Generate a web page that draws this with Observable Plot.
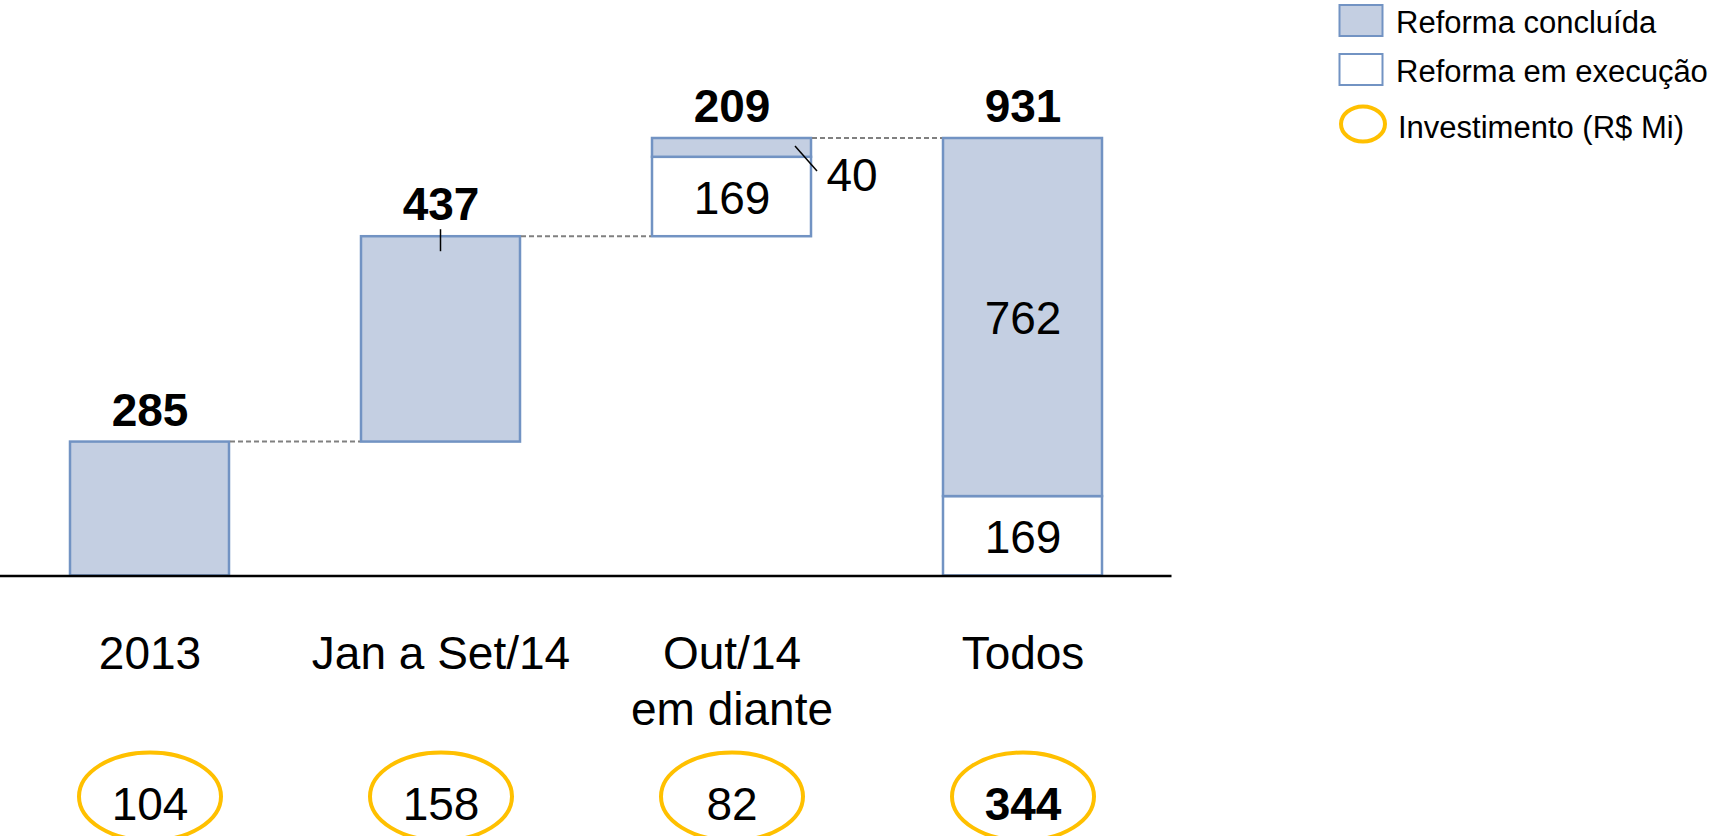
<!DOCTYPE html>
<html>
<head>
<meta charset="utf-8">
<script src="https://cdn.jsdelivr.net/npm/d3@7"></script>
<script src="https://cdn.jsdelivr.net/npm/@observablehq/plot@0.6"></script>
<style>
  html, body { margin: 0; padding: 0; background: #fff; overflow: hidden; }
  #wrap { position: relative; width: 1717px; height: 836px; }
  #legend { position: absolute; left: 1320px; top: 0; }
</style>
</head>
<body>
<div id="wrap"></div>
<script>
// ---- data ----
const categories = ["2013", "Jan a Set/14", "Out/14 em diante", "Todos"];
const tickLabels = ["2013", "Jan a Set/14", "Out/14\nem diante", "Todos"];
const concluida = [285, 437, 40, 762];     // Reforma concluída
const execucao = [0, 0, 169, 169];         // Reforma em execução
const investimento = [104, 158, 82, 344];  // Investimento (R$ Mi)
const legendLabels = ["Reforma concluída", "Reforma em execução", "Investimento (R$ Mi)"];
const leaderTicks = ["Jan a Set/14"];

// ---- styles ----
const FILL = "#C4CFE2", STROKE = "#7293C3", GOLD = "#FFC000", DASH = "#808080";
const FONT = "'Liberation Sans', Arial, sans-serif";
const FS = 46;

// ---- derived waterfall layout ----
const last = categories.length - 1;
const totals = categories.map((_, i) => concluida[i] + execucao[i]);
const base = [];
let run = 0;
categories.forEach((c, i) => {
  if (i === last) { base.push(0); } else { base.push(run); run += totals[i]; }
});

const segments = [];
categories.forEach((c, i) => {
  if (execucao[i] > 0) segments.push({cat: c, kind: "exec", y1: base[i], y2: base[i] + execucao[i], v: execucao[i], stacked: true});
  segments.push({cat: c, kind: "concl", y1: base[i] + execucao[i], y2: base[i] + totals[i], v: concluida[i], stacked: execucao[i] > 0});
});
const innerLabels = segments.filter(s => s.stacked && s.v >= 100);
const outerLabels = segments.filter(s => s.stacked && s.v < 100);
const totalRows = categories.map((c, i) => ({cat: c, top: base[i] + totals[i], v: totals[i]}));
const invRows = categories.map((c, i) => ({cat: c, v: investimento[i], isTotal: i === last}));

// ellipse symbol for the investment bubbles
const ellipse = (rx, ry) => ({
  draw(ctx) {
    const k = 0.5523;
    ctx.moveTo(rx, 0);
    ctx.bezierCurveTo(rx, ry * k, rx * k, ry, 0, ry);
    ctx.bezierCurveTo(-rx * k, ry, -rx, ry * k, -rx, 0);
    ctx.bezierCurveTo(-rx, -ry * k, -rx * k, -ry, 0, -ry);
    ctx.bezierCurveTo(rx * k, -ry, rx, -ry * k, rx, 0);
    ctx.closePath();
  }
});

// connectors and leader lines drawn from the plot's scales
function decorations(index, scales) {
  const x = scales.x, y = scales.y;
  const bw = typeof x.bandwidth === "function" ? x.bandwidth() : x.bandwidth;
  const g = d3.create("svg:g");
  for (let i = 0; i < last; i++) {
    const lv = y(base[i] + totals[i]);
    g.append("line")
      .attr("x1", x(categories[i]) + bw + 1).attr("x2", x(categories[i + 1]) - 1)
      .attr("y1", lv).attr("y2", lv)
      .attr("stroke", DASH).attr("stroke-width", 2).attr("stroke-dasharray", "5,3");
  }
  totalRows.filter(r => leaderTicks.includes(r.cat)).forEach(r => {
    const cx = x(r.cat) + bw / 2, ty = y(r.top);
    g.append("line").attr("x1", cx).attr("x2", cx).attr("y1", ty - 7).attr("y2", ty + 15)
      .attr("stroke", "black").attr("stroke-width", 1.5);
  });
  outerLabels.forEach(s => {
    const xr = x(s.cat) + bw, ty = y(s.y2);
    g.append("line").attr("x1", xr - 16).attr("y1", ty + 8).attr("x2", xr + 6).attr("y2", ty + 33)
      .attr("stroke", "black").attr("stroke-width", 1.5);
  });
  return g.node();
}

const chart = Plot.plot({
  width: 1717,
  height: 836,
  marginLeft: 0,
  marginRight: 545.5,
  marginTop: 138,
  marginBottom: 260.5,
  style: {fontFamily: FONT, fontSize: FS + "px", color: "black", background: "white"},
  x: {domain: categories, paddingInner: 0.452, paddingOuter: 0.232},
  y: {domain: [0, 931], axis: null},
  color: {type: "identity"},
  marks: [
    Plot.barY(segments, {x: "cat", y1: "y1", y2: "y2", fill: d => d.kind === "concl" ? FILL : "white", stroke: STROKE, strokeWidth: 2.5}),
    decorations,
    Plot.ruleY([0], {stroke: "black", strokeWidth: 2.7}),
    Plot.axisX({tickSize: 0, tickPadding: 52.8, label: null, tickFormat: d => tickLabels[categories.indexOf(d)], fontSize: FS, lineHeight: 56 / FS, fill: "black"}),
    Plot.text(totalRows, {x: "cat", y: "top", text: "v", lineAnchor: "bottom", dy: -16.5, fontWeight: "bold", fontSize: FS, fill: "black"}),
    Plot.text(innerLabels, {x: "cat", y: d => (d.y1 + d.y2) / 2, text: "v", dy: 2, fontSize: FS, fill: "black"}),
    Plot.text(outerLabels, {x: "cat", y: "y2", text: "v", dx: 120, dy: 52, lineAnchor: "bottom", fontSize: FS, fill: "black"}),
    Plot.dot(invRows, {x: "cat", frameAnchor: "bottom", dy: 220.5, symbol: ellipse(71, 44), stroke: GOLD, strokeWidth: 4, fill: "none"}),
    Plot.text(invRows.filter(d => !d.isTotal), {x: "cat", frameAnchor: "bottom", dy: 243.5, lineAnchor: "bottom", text: "v", fontSize: FS, fill: "black"}),
    Plot.text(invRows.filter(d => d.isTotal), {x: "cat", frameAnchor: "bottom", dy: 243.5, lineAnchor: "bottom", text: "v", fontSize: FS, fontWeight: "bold", fill: "black"})
  ]
});
document.getElementById("wrap").appendChild(chart);

// ---- legend (top right) ----
const lg = d3.select("#wrap").append("svg").attr("id", "legend")
  .attr("width", 397).attr("height", 150)
  .style("font-family", FONT);
lg.append("rect").attr("x", 19.5).attr("y", 5).attr("width", 43).attr("height", 31)
  .attr("fill", FILL).attr("stroke", STROKE).attr("stroke-width", 2);
lg.append("rect").attr("x", 19.5).attr("y", 54).attr("width", 43).attr("height", 31)
  .attr("fill", "white").attr("stroke", STROKE).attr("stroke-width", 2);
lg.append("ellipse").attr("cx", 43).attr("cy", 124).attr("rx", 22).attr("ry", 17.5)
  .attr("fill", "none").attr("stroke", GOLD).attr("stroke-width", 4);
const lx = [76, 76, 78], ly = [33.3, 81.7, 138.3];
legendLabels.forEach((t, i) => {
  lg.append("text").attr("x", lx[i]).attr("y", ly[i]).attr("font-size", 31).attr("fill", "black").text(t);
});
</script>
</body>
</html>
